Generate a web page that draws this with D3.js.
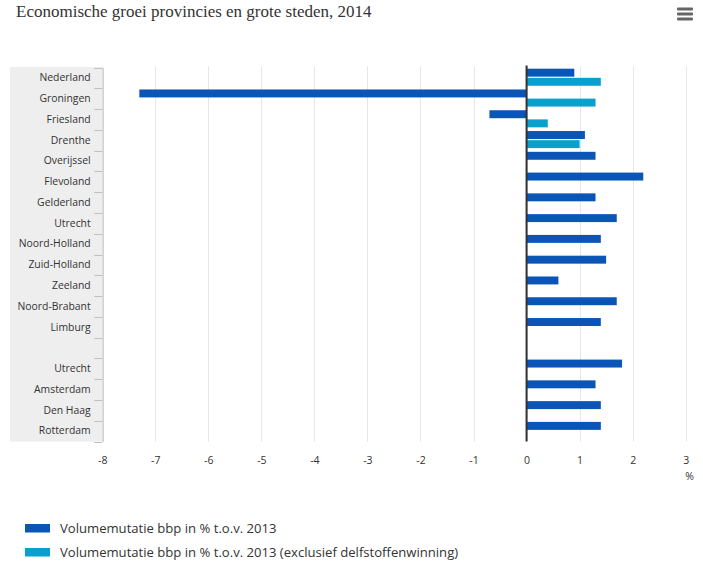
<!DOCTYPE html>
<html><head><meta charset="utf-8">
<script src="https://cdnjs.cloudflare.com/ajax/libs/d3/7.8.5/d3.min.js"></script>
<style>body{margin:0;background:#fff}svg{display:block}</style>
</head><body><svg id="c" width="703" height="567"></svg>
<script>
const categories = ["Nederland","Groningen","Friesland","Drenthe","Overijssel","Flevoland","Gelderland","Utrecht","Noord-Holland","Zuid-Holland","Zeeland","Noord-Brabant","Limburg","","Utrecht","Amsterdam","Den Haag","Rotterdam"];
const seriesNames = ["Volumemutatie bbp in % t.o.v. 2013","Volumemutatie bbp in % t.o.v. 2013 (exclusief delfstoffenwinning)"];
const volume = [0.9,-7.3,-0.7,1.1,1.3,2.2,1.3,1.7,1.4,1.5,0.6,1.7,1.4,null,1.8,1.3,1.4,1.4];
const volumeExcl = [1.4,1.3,0.4,1.0,null,null,null,null,null,null,null,null,null,null,null,null,null,null];
const xTicks = [-8,-7,-6,-5,-4,-3,-2,-1,0,1,2,3];
const colors = ["#0a55b5","#0aa0cd"];
const title = "Economische groei provincies en grote steden, 2014";

const svg = d3.select("#c");
const L = 102.2, R = 685.7, T = 67.5, B = 441.5;
const x = d3.scaleLinear().domain([-8,3]).range([L,R]);
const keys = categories.map((c,i)=>i);
const y = d3.scaleBand().domain(keys).range([T,B]).padding(0);
const y1 = d3.scaleBand().domain([0,1]).range([1.2, y.bandwidth()-2.5]).paddingInner(0.13);

// title
svg.append("text").attr("x",16).attr("y",17).attr("font-family","Liberation Serif, serif")
  .attr("font-size",17).attr("fill","#333").text(title);
// menu icon
[9,14,19].forEach(yy=>svg.append("rect").attr("x",677).attr("y",yy-1.5).attr("width",16).attr("height",3).attr("rx",1).attr("fill","#666"));

// label background
svg.append("rect").attr("x",10).attr("y",T-0.5).attr("width",L-10).attr("height",B-T+0.5).attr("fill","#eeeeee");

// grid
svg.append("g").selectAll("line").data(xTicks).join("line")
  .attr("x1",d=>Math.round(x(d))+0.5).attr("x2",d=>Math.round(x(d))+0.5)
  .attr("y1",T-1).attr("y2",B).attr("stroke","#e6e6e6").attr("stroke-width",1);

// left axis
const yAxis = d3.axisLeft(y).tickFormat(i=>categories[i]).tickSize(0).tickPadding(12);
const ga = svg.append("g").attr("transform",`translate(${L+0.5},0)`).call(yAxis);
ga.select(".domain").attr("stroke","#c0c0c0");
ga.selectAll("text").attr("font-family","Open Sans, sans-serif").attr("font-size",10.4).attr("fill","#333");
// category boundary ticks
const bounds = keys.map(k=>y(k)).concat([B]);
svg.append("g").selectAll("line").data(bounds).join("line")
  .attr("x1",L-8).attr("x2",L).attr("y1",d=>Math.round(d)+0.5).attr("y2",d=>Math.round(d)+0.5)
  .attr("stroke","#c0c0c0");

// bars
[volume, volumeExcl].forEach((vals,si)=>{
  svg.append("g").selectAll("rect").data(vals.map((v,i)=>({v,i})).filter(d=>d.v!==null)).join("rect")
    .attr("x",d=>x(Math.min(0,d.v))).attr("width",d=>Math.abs(x(d.v)-x(0)))
    .attr("y",d=>y(d.i)+y1(si)).attr("height",y1.bandwidth()).attr("fill",colors[si]);
});

// zero line
svg.append("line").attr("x1",x(0)).attr("x2",x(0)).attr("y1",T-2).attr("y2",B)
  .attr("stroke","#333").attr("stroke-width",2);

// x axis labels
const xAxis = d3.axisBottom(x).tickValues(xTicks).tickFormat(d=>String(d)).tickSize(0).tickPadding(15);
const gx = svg.append("g").attr("transform",`translate(0,${B})`).call(xAxis);
gx.select(".domain").remove();
gx.selectAll("text").attr("font-family","Open Sans, sans-serif").attr("font-size",10.5).attr("fill","#333");
svg.append("text").attr("x",x(3)+4).attr("y",480).attr("text-anchor","middle")
  .attr("font-family","Open Sans, sans-serif").attr("font-size",10.5).attr("fill","#333").text("%");

// legend
seriesNames.forEach((n,i)=>{
  const yy = 524 + i*24;
  svg.append("rect").attr("x",25).attr("y",yy).attr("width",25).attr("height",8.5).attr("fill",colors[i]);
  svg.append("text").attr("x",60).attr("y",yy+9).attr("font-family","Open Sans, sans-serif")
    .attr("font-size",13.1).attr("fill","#333").text(n);
});
</script></body></html>
